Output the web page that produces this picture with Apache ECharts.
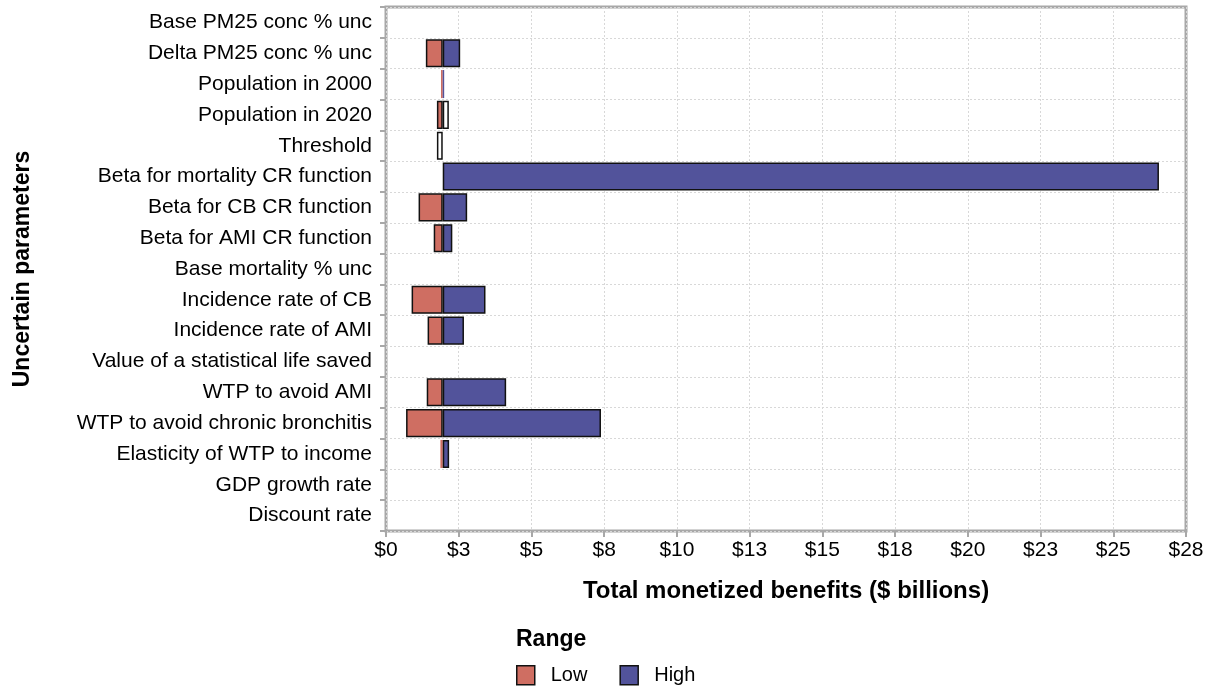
<!DOCTYPE html>
<html>
<head>
<meta charset="utf-8">
<script src="https://cdn.jsdelivr.net/npm/echarts@6/dist/echarts.min.js"></script>
<style>
html,body{margin:0;padding:0;background:#fff;}
#chart{width:1211px;height:687px;}
</style>
</head>
<body>
<div id="chart"></div>
<script>
// ---- data ----
const categories = [
  'Base PM25 conc % unc',
  'Delta PM25 conc % unc',
  'Population in 2000',
  'Population in 2020',
  'Threshold',
  'Beta for mortality CR function',
  'Beta for CB CR function',
  'Beta for AMI CR function',
  'Base mortality % unc',
  'Incidence rate of CB',
  'Incidence rate of AMI',
  'Value of a statistical life saved',
  'WTP to avoid AMI',
  'WTP to avoid chronic bronchitis',
  'Elasticity of WTP to income',
  'GDP growth rate',
  'Discount rate'
];
const baseValue = 1.95;
const lowValues  = [null, 1.37, 1.89, 1.75, 1.75, null, 1.12, 1.64, null, 0.88, 1.43, null, 1.40, 0.69, 1.87, null, null];
const highValues = [null, 2.55, 2.00, 2.16, null, 26.57, 2.79, 2.28, null, 3.42, 2.68, null, 4.13, 7.39, 2.17, null, null];
const xTickValues = { min: 0, max: 27.5, step: 2.5 };

// ---- styling ----
const RED = '#CF6E62';
const BLUE = '#52539B';
const hollowLow = ['Threshold'];
const hollowHigh = ['Population in 2020'];
const FONT = 'Liberation Sans, Arial, sans-serif';

function lowItem(v, i) {
  if (v == null) return '-';
  const w = baseValue - v;
  const thin = w < 0.15;
  return {
    value: w,
    itemStyle: {
      color: hollowLow.includes(categories[i]) ? '#fff' : RED,
      borderColor: '#111',
      borderWidth: thin ? 0 : 1.5
    }
  };
}
function highItem(v, i) {
  if (v == null) return '-';
  const w = v - baseValue;
  const thin = w < 0.1;
  return {
    value: w,
    itemStyle: {
      color: hollowHigh.includes(categories[i]) ? '#fff' : BLUE,
      borderColor: '#111',
      borderWidth: thin ? 0 : 1.5
    }
  };
}
const placeholder = lowValues.map((v, i) => {
  if (v != null) return v;
  if (highValues[i] != null) return baseValue;
  return '-';
});

const chart = echarts.init(document.getElementById('chart'), null, {renderer: 'canvas'});
chart.setOption({
  animation: false,
  backgroundColor: '#fff',
  textStyle: { fontFamily: FONT, color: '#000' },
  grid: {
    left: 386, right: 25, top: 7, bottom: 156,
    outerBoundsMode: 'none',
    containLabel: false,
    show: true, borderColor: '#A8A8A8', borderWidth: 3, backgroundColor: 'transparent'
  },
  legend: {
    data: ['Low', 'High'],
    left: 516, top: 665, padding: 0,
    itemWidth: 18, itemHeight: 19, itemGap: 32,
    icon: 'rect',
    itemStyle: { borderColor: '#111', borderWidth: 1.5 },
    textStyle: { fontFamily: FONT, fontSize: 20, color: '#000', padding: [0, 0, 0, 11] }
  },
  graphic: [{
    type: 'text', left: 516, top: 628,
    style: { text: 'Range', font: 'bold 23px ' + FONT, fill: '#000' }
  }],
  xAxis: {
    type: 'value',
    min: xTickValues.min, max: xTickValues.max, interval: xTickValues.step,
    name: 'Total monetized benefits ($ billions)',
    nameLocation: 'middle', nameGap: 48,
    nameTextStyle: { fontFamily: FONT, fontSize: 24, fontWeight: 'bold', color: '#000' },
    axisLine: { show: false },
    axisTick: { show: true, length: 6, lineStyle: { color: '#A8A8A8', width: 2 } },
    axisLabel: {
      fontFamily: FONT, fontSize: 21, color: '#000', margin: 9,
      formatter: v => '$' + Math.round(v)
    },
    splitLine: { show: true, lineStyle: { color: '#D8D8D8', type: [2, 2], width: 1 } }
  },
  yAxis: {
    type: 'category',
    data: categories,
    inverse: true,
    name: 'Uncertain parameters',
    nameLocation: 'middle', nameGap: 352, nameRotate: 90,
    nameTextStyle: { fontFamily: FONT, fontSize: 23, fontWeight: 'bold', color: '#000' },
    axisLine: { show: false },
    axisTick: { show: true, length: 6, lineStyle: { color: '#A8A8A8', width: 2 } },
    axisLabel: { fontFamily: FONT, fontSize: 21, color: '#000', margin: 14 },
    splitLine: { show: true, lineStyle: { color: '#D8D8D8', type: [2, 2], width: 1 } }
  },
  series: [
    {
      name: 'placeholder', type: 'bar', stack: 'r',
      barCategoryGap: '9%',
      itemStyle: { color: 'transparent' },
      emphasis: { disabled: true },
      silent: true,
      data: placeholder
    },
    {
      name: 'Low', type: 'bar', stack: 'r',
      barCategoryGap: '9%',
      itemStyle: { color: RED, borderColor: '#111', borderWidth: 1.5 },
      data: lowValues.map(lowItem)
    },
    {
      name: 'High', type: 'bar', stack: 'r',
      barCategoryGap: '9%',
      itemStyle: { color: BLUE, borderColor: '#111', borderWidth: 1.5 },
      data: highValues.map(highItem)
    }
  ]
});
</script>
</body>
</html>
